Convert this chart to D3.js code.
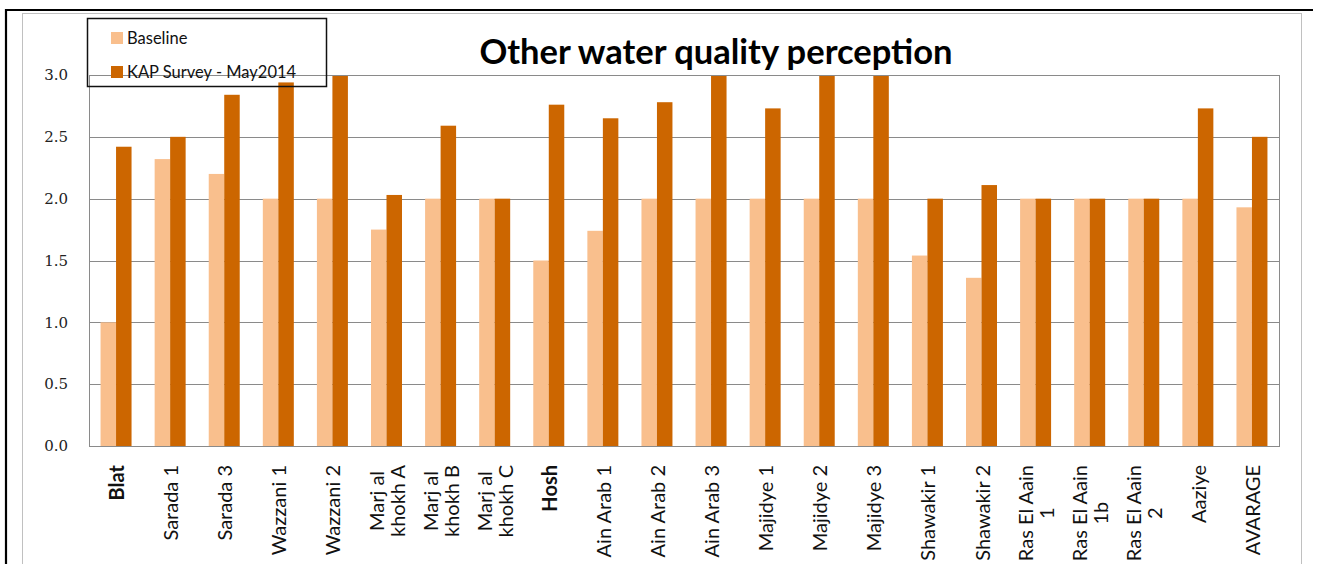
<!DOCTYPE html>
<html>
<head>
<meta charset="utf-8">
<script src="https://cdn.jsdelivr.net/npm/d3@7"></script>
<style>
  body { margin: 0; background: #fff; }
  svg { display: block; }
</style>
</head>
<body>
<svg id="chart" width="1318" height="564"></svg>
<script>
// Sites surveyed
const categories = [
  "Blat", "Sarada 1", "Sarada 3", "Wazzani 1", "Wazzani 2",
  "Marj al khokh A", "Marj al khokh B", "Marj al khokh C", "Hosh",
  "Ain Arab 1", "Ain Arab 2", "Ain Arab 3", "Majidye 1", "Majidye 2", "Majidye 3",
  "Shawakir 1", "Shawakir 2", "Ras El Aain 1", "Ras El Aain 1b", "Ras El Aain 2",
  "Aaziye", "AVARAGE"
];
// Axis labels as they wrap under each site
const categoryLabels = [
  ["Blat"], ["Sarada 1"], ["Sarada 3"], ["Wazzani 1"], ["Wazzani 2"],
  ["Marj al", "khokh A"], ["Marj al", "khokh B"], ["Marj al", "khokh C"], ["Hosh"],
  ["Ain Arab 1"], ["Ain Arab 2"], ["Ain Arab 3"], ["Majidye 1"], ["Majidye 2"], ["Majidye 3"],
  ["Shawakir 1"], ["Shawakir 2"], ["Ras El Aain", "1"], ["Ras El Aain", "1b"], ["Ras El Aain", "2"],
  ["Aaziye"], ["AVARAGE"]
];
const boldLabels = ["Blat", "Hosh"];

// Mean perception score per site
const baseline = [
  1.00, 2.32, 2.20, 2.00, 2.00,
  1.75, 2.00, 2.00, 1.50,
  1.74, 2.00, 2.00, 2.00, 2.00, 2.00,
  1.54, 1.36, 2.00, 2.00, 2.00,
  2.00, 1.93
];
const kapSurvey = [
  2.42, 2.50, 2.84, 2.94, 3.00,
  2.03, 2.59, 2.00, 2.76,
  2.65, 2.78, 3.00, 2.73, 3.00, 3.00,
  2.00, 2.11, 2.00, 2.00, 2.00,
  2.73, 2.50
];

const seriesNames = ["Baseline", "KAP Survey - May2014"];
const seriesColors = ["#F9BF8D", "#CC6600"];
const yTicks = [0, 0.5, 1.0, 1.5, 2.0, 2.5, 3.0];
const title = "Other water quality perception";

const svg = d3.select("#chart");

// Frame lines around the chart object
svg.append("rect")
  .attr("x", 22.5).attr("y", 13.5).attr("width", 1279).attr("height", 600)
  .attr("fill", "#fff").attr("stroke", "#c0c0c0").attr("stroke-width", 1);
svg.append("line").attr("x1", 5).attr("x2", 1313).attr("y1", 10).attr("y2", 10)
  .attr("stroke", "#000").attr("stroke-width", 2.2);
svg.append("line").attr("x1", 6).attr("x2", 6).attr("y1", 9).attr("y2", 564)
  .attr("stroke", "#000").attr("stroke-width", 2.2);

const plot = { left: 89, right: 1279, top: 75, bottom: 446 };

const x = d3.scaleBand()
  .domain(categories)
  .range([plot.left, plot.right])
  .paddingInner(0.427)
  .paddingOuter(0.2135);

const xs = d3.scaleBand()
  .domain(seriesNames)
  .range([0, x.bandwidth()]);

const y = d3.scaleLinear().domain([0, 3]).range([plot.bottom, plot.top]);

// Gridlines
svg.append("g")
  .selectAll("line")
  .data(yTicks)
  .join("line")
  .attr("x1", plot.left).attr("x2", plot.right)
  .attr("y1", d => Math.round(y(d)) + 0.5).attr("y2", d => Math.round(y(d)) + 0.5)
  .attr("stroke", "#8a8a8a").attr("stroke-width", 1);

// Bars
const series = [baseline, kapSurvey];
const groups = svg.append("g").selectAll("g")
  .data(categories)
  .join("g")
  .attr("transform", d => `translate(${x(d)},0)`);

groups.selectAll("rect")
  .data((d, i) => seriesNames.map((s, k) => ({ s, v: series[k][i], k })))
  .join("rect")
  .attr("x", d => xs(d.s))
  .attr("width", xs.bandwidth())
  .attr("y", d => y(d.v))
  .attr("height", d => y(0) - y(d.v))
  .attr("fill", d => seriesColors[d.k]);

// Plot area border
svg.append("rect")
  .attr("x", plot.left + 0.5).attr("y", plot.top + 0.5)
  .attr("width", plot.right - plot.left).attr("height", plot.bottom - plot.top)
  .attr("fill", "none").attr("stroke", "#8a8a8a").attr("stroke-width", 1);

// Y axis labels
const yAxis = d3.axisLeft(y).tickValues(yTicks).tickFormat(d3.format(".1f")).tickSize(0).tickPadding(21);
const yG = svg.append("g").attr("transform", `translate(${plot.left},0)`).call(yAxis);
yG.select(".domain").remove();
yG.selectAll("text")
  .attr("font-family", "'DejaVu Serif', serif")
  .attr("font-size", 15)
  .attr("fill", "#222");

// X axis labels, rotated, wrapped lines centred on each other
const labelTop = 465;
const lineH = 21;
const xl = svg.append("g");
categories.forEach((c, i) => {
  const lines = categoryLabels[i];
  const bold = boldLabels.includes(c);
  const g = xl.append("g")
    .attr("transform", `translate(${x(c) + x.bandwidth() / 2},${labelTop}) rotate(-90)`);
  const texts = lines.map((ln, j) => g.append("text")
    .text(ln)
    .attr("font-family", "Lato, sans-serif")
    .attr("font-weight", bold ? "bold" : "normal")
    .attr("font-size", 20)
    .attr("fill", "#111")
    .attr("text-anchor", "middle")
    .attr("dominant-baseline", "central")
    .attr("y", (j - (lines.length - 1) / 2) * lineH));
  const maxLen = d3.max(texts, t => t.node().getComputedTextLength());
  texts.forEach(t => t.attr("x", -maxLen / 2));
});

// Title
svg.append("text")
  .attr("x", 716).attr("y", 64)
  .attr("text-anchor", "middle")
  .attr("font-family", "Lato, sans-serif")
  .attr("font-weight", "bold")
  .attr("font-size", 34.5)
  .attr("fill", "#000")
  .text(title);

// Legend (transparent box over the plot)
const legend = svg.append("g");
legend.append("rect")
  .attr("x", 87.5).attr("y", 18.5).attr("width", 239).attr("height", 68)
  .attr("fill", "none").attr("stroke", "#111").attr("stroke-width", 1.5);
const legendRows = [38, 72];
seriesNames.forEach((s, k) => {
  legend.append("rect")
    .attr("x", 111).attr("y", legendRows[k] - 6)
    .attr("width", 12).attr("height", 12)
    .attr("fill", seriesColors[k]);
  legend.append("text")
    .attr("x", 127).attr("y", legendRows[k])
    .attr("dominant-baseline", "central")
    .attr("font-family", "Lato, sans-serif")
    .attr("font-size", 16.5)
    .attr("fill", "#111")
    .text(s);
});
</script>
</body>
</html>
